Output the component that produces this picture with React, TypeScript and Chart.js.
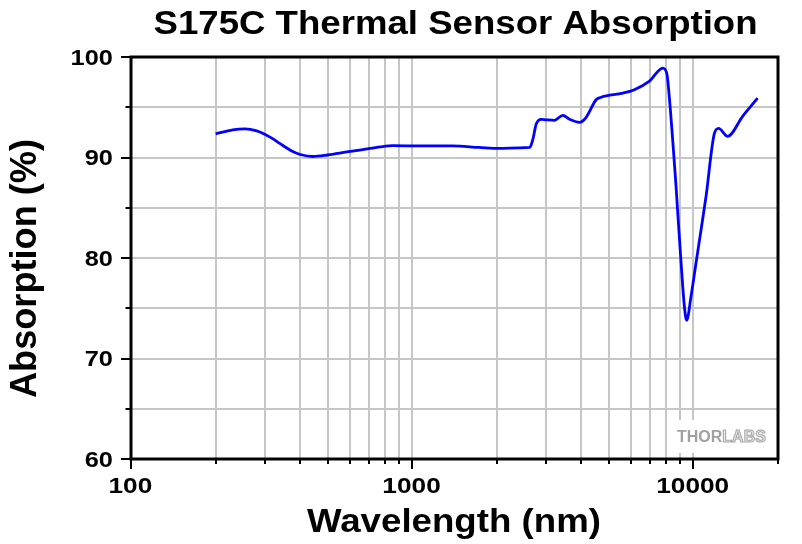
import React, { useEffect, useRef } from 'react';
import { Chart, registerables } from 'chart.js';

Chart.register(...registerables);

const chartTitle = 'S175C Thermal Sensor Absorption';
const xAxisTitle = 'Wavelength (nm)';
const yAxisTitle = 'Absorption (%)';

const wavelengthNm = [200, 230, 254, 280, 300, 320, 338, 376, 400, 443, 500, 585, 700, 767, 852, 1065, 1390, 1730, 2040, 2400, 2620, 2686, 2760, 2877, 3000, 3208, 3433, 3626, 3936, 4157, 4510, 4700, 5610, 6170, 6980, 7780, 8040, 8265, 8440, 8680, 8795, 9045, 9290, 9467, 9813, 10220, 10650, 11090, 11880, 12300, 13240, 14970, 16920];
const absorptionPct = [92.35, 92.75, 92.85, 92.65, 92.3, 91.85, 91.4, 90.6, 90.3, 90.1, 90.25, 90.55, 90.88, 91.05, 91.18, 91.15, 91.15, 91.0, 90.9, 90.95, 91.0, 91.8, 93.3, 93.8, 93.75, 93.7, 94.2, 93.8, 93.5, 94.0, 95.75, 96.0, 96.4, 96.75, 97.6, 98.9, 98.4, 95.1, 91.8, 87.1, 84.6, 79.5, 75.2, 73.8, 76.2, 79.5, 82.8, 86.1, 92.4, 92.9, 92.1, 94.1, 95.9];

const xMin = 100;
const xMax = 20000;
const xGridValues = [100, 200, 300, 400, 500, 600, 700, 800, 900, 1000, 2000, 3000, 4000, 5000, 6000, 7000, 8000, 9000, 10000, 20000];
const xLabelValues = [100, 1000, 10000];
const yMin = 60;
const yMax = 100;
const yGridValues = [60, 65, 70, 75, 80, 85, 90, 95, 100];
const yLabelValues = [60, 70, 80, 90, 100];

const FONT = '"Liberation Sans", Arial, sans-serif';

function drawStretched(
  ctx: CanvasRenderingContext2D,
  text: string,
  font: string,
  x: number,
  baseline: number,
  opts: { targetWidth?: number; scaleX?: number; align: 'center' | 'right'; rotate?: boolean }
) {
  ctx.save();
  ctx.font = font;
  ctx.textAlign = 'left';
  ctx.textBaseline = 'alphabetic';
  const m = ctx.measureText(text);
  const inkL = m.actualBoundingBoxLeft;
  const inkR = m.actualBoundingBoxRight;
  const inkW = inkL + inkR;
  const sx = opts.targetWidth ? opts.targetWidth / inkW : opts.scaleX || 1;
  ctx.translate(x, baseline);
  if (opts.rotate) ctx.rotate(-Math.PI / 2);
  ctx.scale(sx, 1);
  const dx = opts.align === 'center' ? -(inkR - inkL) / 2 : -inkR;
  ctx.fillText(text, dx, 0);
  ctx.restore();
}

const decorPlugin = {
  id: 'decor',
  afterDraw(chart: any) {
    const ctx: CanvasRenderingContext2D = chart.ctx;
    const { left, right, top, bottom } = chart.chartArea;
    const xs = chart.scales.x;
    const ys = chart.scales.y;
    ctx.save();

    // watermark
    ctx.fillStyle = '#ffffff';
    ctx.fillRect(right - 106, bottom - 39, 104, 33);
    ctx.font = 'bold 16px ' + FONT;
    ctx.textBaseline = 'alphabetic';
    ctx.textAlign = 'left';
    const wx = right - 101;
    const wy = bottom - 17.5;
    ctx.fillStyle = '#a0a0a0';
    ctx.fillText('THOR', wx, wy);
    const tw = ctx.measureText('THOR').width;
    ctx.fillStyle = '#e8e8e8';
    ctx.fillText('LABS', wx + tw, wy);
    ctx.strokeStyle = '#a6a6a6';
    ctx.lineWidth = 1;
    ctx.strokeText('LABS', wx + tw, wy);

    // frame
    ctx.strokeStyle = '#000000';
    ctx.lineWidth = 3;
    ctx.strokeRect(left, top, right - left, bottom - top);

    // tick marks
    ctx.lineWidth = 2;
    ctx.beginPath();
    for (const v of xGridValues) {
      const px = Math.round(xs.getPixelForValue(v));
      const major = xLabelValues.includes(v);
      ctx.moveTo(px, bottom);
      ctx.lineTo(px, bottom + (major ? 10 : 5));
    }
    for (const v of yGridValues) {
      const py = Math.round(ys.getPixelForValue(v));
      const major = yLabelValues.includes(v);
      ctx.moveTo(left, py);
      ctx.lineTo(left - (major ? 10 : 5.5), py);
    }
    ctx.stroke();

    ctx.fillStyle = '#000000';
    // tick labels
    const tickFont = 'bold 21.5px ' + FONT;
    for (const v of xLabelValues) {
      drawStretched(ctx, String(v), tickFont, xs.getPixelForValue(v), bottom + 33.5, { scaleX: 1.22, align: 'center' });
    }
    for (const v of yLabelValues) {
      drawStretched(ctx, String(v), tickFont, left - 18, ys.getPixelForValue(v) + 7.8, { scaleX: 1.18, align: 'right' });
    }

    // titles
    const cx = (left + right) / 2;
    drawStretched(ctx, chartTitle, 'bold 32.5px ' + FONT, cx, 34.3, { targetWidth: 602, align: 'center' });
    drawStretched(ctx, xAxisTitle, 'bold 32.5px ' + FONT, cx - 1, 532.3, { targetWidth: 293, align: 'center' });
    drawStretched(ctx, yAxisTitle, 'bold 36px ' + FONT, 36, 269, { targetWidth: 258, align: 'center', rotate: true });

    ctx.restore();
  },
};

export default function App() {
  const canvasRef = useRef<HTMLCanvasElement | null>(null);

  useEffect(() => {
    document.body.style.margin = '0';
    const canvas = canvasRef.current;
    if (!canvas) return;
    const points = wavelengthNm.map((w, i) => ({ x: w, y: absorptionPct[i] }));
    const chart = new Chart(canvas, {
      type: 'line',
      data: {
        datasets: [
          {
            data: points,
            borderColor: '#0000ff',
            borderWidth: 2.8,
            pointRadius: 0,
            fill: false,
            cubicInterpolationMode: 'monotone',
          },
        ],
      },
      options: {
        animation: false,
        responsive: false,
        devicePixelRatio: 1,
        layout: { padding: { top: 57, right: 24, left: 0, bottom: 0 } },
        plugins: {
          legend: { display: false },
          title: { display: false },
          tooltip: { enabled: false },
        },
        scales: {
          x: {
            type: 'logarithmic',
            min: xMin,
            max: xMax,
            afterBuildTicks: (s: any) => {
              s.ticks = xGridValues.map((v) => ({ value: v }));
            },
            afterFit: (s: any) => {
              s.height = 85;
            },
            ticks: { display: false },
            grid: { color: '#c6c6c6', lineWidth: 2, drawTicks: false },
            border: { display: false },
          },
          y: {
            type: 'linear',
            min: yMin,
            max: yMax,
            afterBuildTicks: (s: any) => {
              s.ticks = yGridValues.map((v) => ({ value: v }));
            },
            afterFit: (s: any) => {
              s.width = 131;
            },
            ticks: { display: false },
            grid: { color: '#c6c6c6', lineWidth: 2, drawTicks: false },
            border: { display: false },
          },
        },
      } as any,
      plugins: [decorPlugin],
    });
    return () => chart.destroy();
  }, []);

  return (
    <div style={{ width: 802, height: 544, background: '#fff' }}>
      <canvas ref={canvasRef} width={802} height={544} style={{ display: 'block' }} />
    </div>
  );
}
